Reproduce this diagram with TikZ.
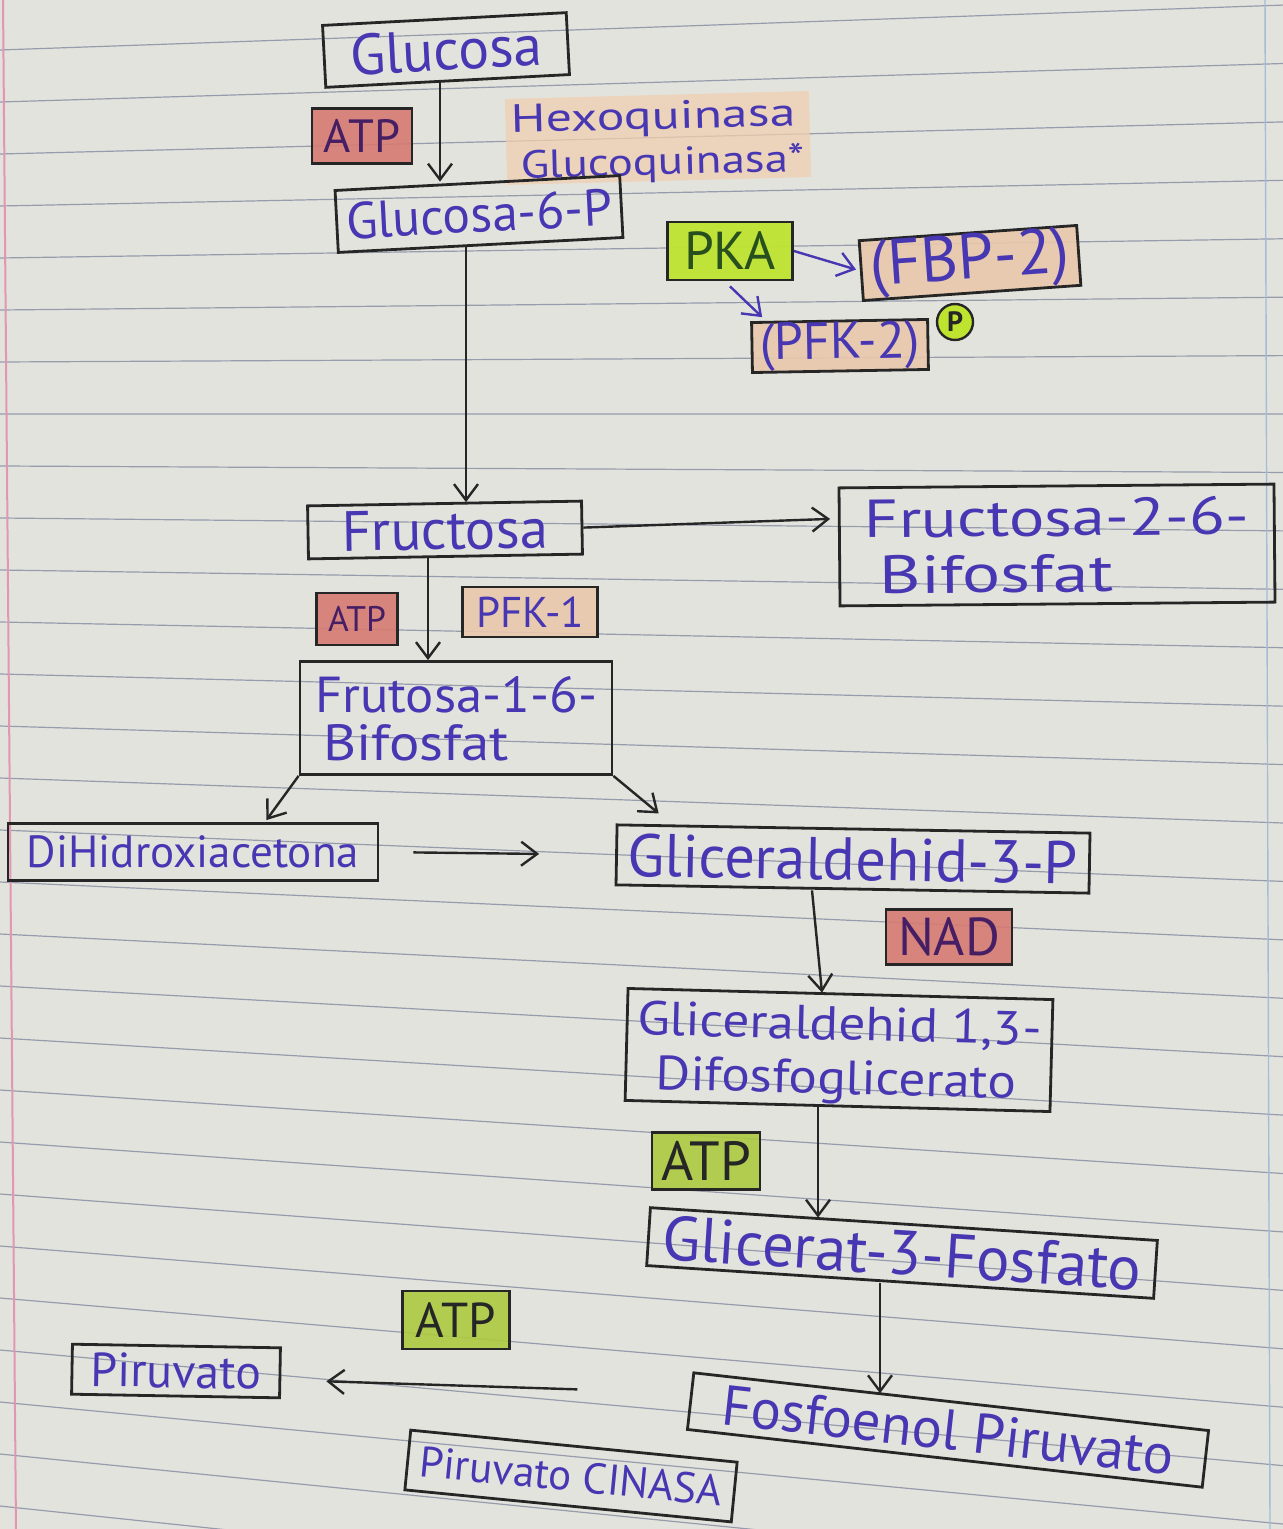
\documentclass[tikz,border=0pt]{standalone}
\usepackage{fontspec}
\setmainfont{PT Sans}
\usetikzlibrary{arrows.meta,calc}
\definecolor{paper}{RGB}{227,227,221}
\definecolor{rulecol}{RGB}{150,156,172}
\definecolor{ink}{RGB}{72,55,178}
\definecolor{pen}{RGB}{38,38,38}
\definecolor{atpred}{RGB}{214,122,114}
\definecolor{peach}{RGB}{233,200,172}
\definecolor{lime}{RGB}{190,228,48}
\definecolor{atpgreen}{RGB}{172,202,64}
\definecolor{hexo}{RGB}{240,206,176}
\definecolor{marginpink}{RGB}{226,150,180}
\definecolor{marginblue}{RGB}{165,188,215}
\definecolor{darkpurple}{RGB}{70,30,100}
\definecolor{darkgreen}{RGB}{40,80,30}
\newcommand{\tx}[2]{\resizebox{#1pt}{!}{#2}}
\newcommand{\tl}[3]{\raisebox{0pt}[#3pt][0pt]{\resizebox{#1pt}{#3pt}{#2}}}
\begin{document}
\begin{tikzpicture}[x=0.5pt,y=-0.5pt,
  box/.style={draw=pen, line width=1.4pt, inner sep=0pt, text=ink},
  redtag/.style={box, fill=atpred, fill opacity=0.9, text opacity=1, text=darkpurple},
  peachtag/.style={box, fill=peach, fill opacity=0.9, text opacity=1},
  greentag/.style={box, fill=atpgreen, fill opacity=0.9, text opacity=1, text=pen},
  limetag/.style={box, fill=lime, fill opacity=0.95, text opacity=1, text=darkgreen},
  twoline/.style={align=left},
  arr/.style={draw=pen, line width=1.2pt, -{Straight Barb[length=8pt,width=12pt,line width=1.2pt]}},
  bluearr/.style={arr, draw=ink}
]
\fill[paper] (0,0) rectangle (1283,1529);
\useasboundingbox (0,0) rectangle (1283,1529);
\foreach \k in {0,...,28} {
  \pgfmathsetmacro{\yl}{50+52*\k}
  \pgfmathsetmacro{\yr}{\yl+1283*(-0.035+0.005*\k)}
  \draw[rulecol, line width=0.6pt] (0,\yl) -- (1283,\yr);
}
\draw[marginpink, line width=1pt] (3,0) -- (16,1529);
\draw[marginblue, line width=0.7pt] (1265,0) -- (1270,1529);

% nodes
\node[box, minimum width=122pt, minimum height=31pt, rotate=3] (glucosa) at (446,50) {\tx{96}{Glucosa}};
\node[redtag, minimum width=50pt, minimum height=27.5pt] (atp1) at (362,136) {\tx{38}{ATP}};
\node[fill=hexo, fill opacity=0.75, text opacity=1, text=ink, rotate=1.5, twoline, inner sep=3pt,
      font=\fontsize{10}{23}\selectfont] (enz1) at (658,138)
      {\tl{142}{Hexoquinasa}{14}\\\hspace*{4pt}\tl{142}{Glucoquinasa*}{14}};
\node[box, minimum width=142.5pt, minimum height=31pt, rotate=3] (g6p) at (479,214) {\tx{133}{Glucosa-6-P}};

\node[limetag, minimum width=62.5pt, minimum height=29pt] (pka) at (730,251) {\tx{46}{PKA}};
\node[peachtag, minimum width=109pt, minimum height=30pt, rotate=4] (fbp) at (970,263) {\tx{100}{(FBP-2)}};
\node[peachtag, minimum width=88pt, minimum height=25pt, rotate=1] (pfk2) at (840,346) {\tx{80}{(PFK-2)}};
\node[circle, draw=pen, fill=lime, line width=1.2pt, minimum size=18pt, inner sep=0pt, text=pen] (pp) at (955,322) {\tx{8}{\bfseries P}};

\node[box, minimum width=137pt, minimum height=26.5pt, rotate=1] (fructosa) at (445,530) {\tx{103}{Fructosa}};
\node[box, twoline, minimum width=217.5pt, minimum height=59pt, rotate=0.5,
      font=\fontsize{10}{28}\selectfont] (f26) at (1057,545)
      {\tl{192}{Fructosa-2-6-}{19}\\\hspace*{7pt}\tl{117}{Bifosfat}{19}};
\node[redtag, minimum width=40.5pt, minimum height=26pt] (atp2) at (357,619) {\tx{29}{ATP}};
\node[peachtag, minimum width=67.5pt, minimum height=25pt] (pfk1) at (530,612) {\tx{54}{PFK-1}};
\node[box, twoline, minimum width=156pt, minimum height=56.5pt,
      font=\fontsize{10}{24}\selectfont] (f16) at (456,718)
      {\tl{141}{Frutosa-1-6-}{18}\\\hspace*{4pt}\tl{93}{Bifosfat}{18}};

\node[box, minimum width=185pt, minimum height=28.5pt] (dha) at (193,852) {\tx{166}{DiHidroxiacetona}};
\node[box, minimum width=236.5pt, minimum height=30pt, rotate=-1] (g3p) at (853,859) {\tx{225}{Gliceraldehid-3-P}};
\node[redtag, minimum width=63pt, minimum height=27.5pt] (nad) at (949,937) {\tx{51}{NAD}};
\node[box, twoline, minimum width=212.5pt, minimum height=56pt, rotate=-1.5,
      font=\fontsize{10}{27}\selectfont] (g13) at (839,1050)
      {\tl{202}{Gliceraldehid 1,3-}{17}\\\hspace*{10pt}\tl{180}{Difosfoglicerato}{17}};
\node[greentag, minimum width=54pt, minimum height=28.5pt] (atp3) at (706,1161) {\tx{45}{ATP}};
\node[box, minimum width=254pt, minimum height=29pt, rotate=-3.7] (glicerat) at (902,1253) {\tx{240}{Glicerat-3-Fosfato}};
\node[box, minimum width=259pt, minimum height=28.5pt, rotate=-6.4] (fpep) at (948,1430) {\tx{227}{Fosfoenol Piruvato}};
\node[greentag, minimum width=53.5pt, minimum height=29pt] (atp4) at (456,1320) {\tx{40}{ATP}};
\node[box, minimum width=104pt, minimum height=25pt, rotate=-1] (piruvato) at (176,1371) {\tx{85}{Piruvato}};
\node[box, minimum width=164pt, minimum height=30pt, rotate=-5.6] (pk) at (571,1476) {\tx{152}{Piruvato CINASA}};

% helper x-positions
\coordinate (c440) at (440,0);
\coordinate (c466) at (466,0);
\coordinate (c428) at (428,0);
\coordinate (c812) at (812,0);
\coordinate (c822) at (822,0);
\coordinate (c818) at (818,0);
\coordinate (c880) at (880,0);

% connectors
\draw[arr] (c440 |- glucosa.south) -- (c440 |- g6p.north);
\draw[arr] (c466 |- g6p.south) -- (c466 |- fructosa.north);
\draw[arr] (fructosa.east) -- ($(f26.west)+(-8,-28)$);
\draw[arr] (c428 |- fructosa.south) -- (c428 |- f16.north);
\draw[arr] (f16.south west) -- ($(dha.north east)+(-113,-2)$);
\draw[arr] (f16.south east) -- ($(g3p.north west)+(43,-10)$);
\draw[arr, shorten <=17pt, shorten >=38pt] (dha.east) -- (g3p.west);
\draw[arr] (c812 |- g3p.south) -- (c822 |- g13.north);
\draw[arr] (c818 |- g13.south) -- ($(c818 |- glicerat.north)+(0,-5)$);
\draw[arr] (c880 |- glicerat.south) -- ($(c880 |- fpep.north)+(0,-7)$);
\draw[arr, shorten <=56pt, shorten >=22.5pt] ($(fpep.west)+(0,-8)$) -- ($(piruvato.east)+(0,7)$);
\draw[bluearr, shorten >=2pt] (pka.east) -- (fbp.west);
\draw[bluearr] ($(pka.south)+(0,5)$) -- ($(pfk2.north west)+(12,-4)$);
\end{tikzpicture}
\end{document}
